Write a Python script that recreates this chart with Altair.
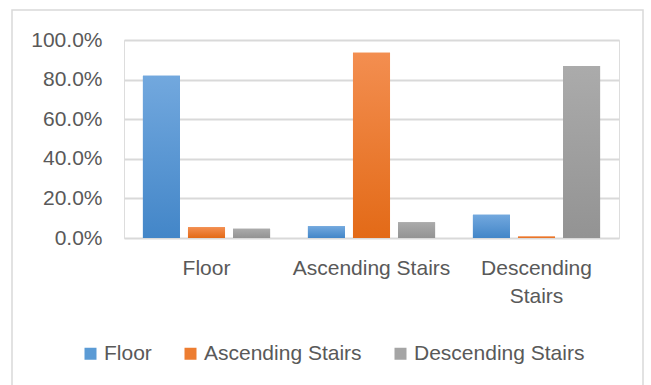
import altair as alt
import pandas as pd

categories = ["Floor", "Ascending Stairs", "Descending Stairs"]
series = ["Floor", "Ascending Stairs", "Descending Stairs"]
# values[s][c] : share of series s within category c
floor_vals = [0.819, 0.059, 0.117]
asc_vals = [0.054, 0.935, 0.008]
desc_vals = [0.047, 0.079, 0.869]

flat_colors = ["#5b9bd5", "#ed7d31", "#a5a5a5"]
grad_top = ["#72a8de", "#f38e50", "#ababab"]
grad_bot = ["#4386c8", "#e36a17", "#939393"]

rows = []
for s, vals in zip(series, [floor_vals, asc_vals, desc_vals]):
    for c, v in zip(categories, vals):
        rows.append({"category": c, "series": s, "value": v})
df = pd.DataFrame(rows)

FONT = "Liberation Sans"
TXT = "#595959"

x_enc = alt.X("category:N", sort=categories,
              scale=alt.Scale(domain=categories, paddingInner=0, paddingOuter=0),
              axis=alt.Axis(title=None, domain=False, ticks=False, labelAngle=0,
                            labelPadding=19, labelFontSize=21, labelColor=TXT,
                            labelFont=FONT, labelLineHeight=28,
                            labelExpr="length(datum.label) > 16 ? split(datum.label, ' ') : datum.label"))
xo_enc = alt.XOffset("series:N", sort=series,
                     scale=alt.Scale(domain=series, paddingInner=0.178, paddingOuter=0.42))
y_enc = alt.Y("value:Q",
              scale=alt.Scale(domain=[0, 1]),
              axis=alt.Axis(title=None, format=".1%", values=[0, 0.2, 0.4, 0.6, 0.8, 1.0],
                            domain=False, ticks=False, labelPadding=22, labelFontSize=21,
                            labelColor=TXT, labelFont=FONT, gridColor="#d9d9d9",
                            gridWidth=2))

base = alt.Chart(df).mark_bar().encode(
    x=x_enc, xOffset=xo_enc, y=y_enc,
    color=alt.Color("series:N", sort=series,
                    scale=alt.Scale(domain=series, range=flat_colors),
                    legend=alt.Legend(title=None, orient="none", direction="horizontal",
                                      legendX=-44, legendY=303, symbolType="square",
                                      symbolSize=144, symbolStrokeWidth=0,
                                      labelFontSize=21, labelColor=TXT, labelFont=FONT,
                                      labelLimit=0, columnPadding=28, labelOffset=3)),
)

layers = [base]
for s, t, b in zip(series, grad_top, grad_bot):
    g = alt.Gradient(gradient="linear", x1=0, y1=0, x2=0, y2=1,
                     stops=[alt.GradientStop(color=t, offset=0),
                            alt.GradientStop(color=b, offset=1)])
    layers.append(
        alt.Chart(df).transform_filter(alt.datum.series == s)
        .mark_bar(color=g).encode(x=x_enc, xOffset=xo_enc, y=y_enc)
    )

frame = alt.Chart(pd.DataFrame({"a": [0]})).mark_rect(
    fillOpacity=0, stroke="#d9d9d9", strokeWidth=1.5
).encode(x=alt.value(-112), x2=alt.value(519), y=alt.value(-30), y2=alt.value(360))

chart = alt.layer(*layers, frame).properties(
    width=495, height=198,
    autosize=alt.AutoSizeParams(type="none"),
    padding={"left": 124, "top": 40, "right": 32, "bottom": 147},
).configure_view(stroke=None).configure(background="white")

chart.save("out.html", embed_options={"renderer": "svg", "actions": False})
